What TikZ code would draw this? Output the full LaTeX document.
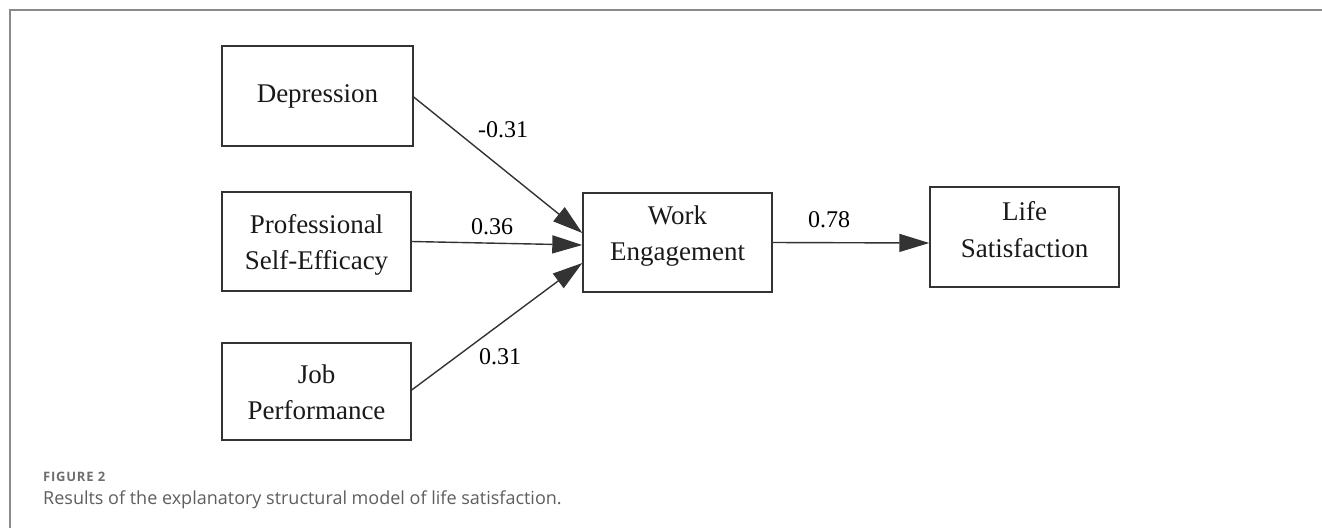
\documentclass[tikz,border=0pt]{standalone}
\usepackage{fontspec}
\setmainfont{Liberation Serif}
\newfontfamily\capfont{Open Sans}
\newfontfamily\figfont[LetterSpace=6]{Open Sans}
\usetikzlibrary{arrows.meta}
\definecolor{linec}{HTML}{333333}
\definecolor{framec}{HTML}{8A8A8A}
\definecolor{capc}{HTML}{5E5E5E}
\definecolor{figc}{HTML}{6E6E6E}
\tikzset{
  varbox/.style={draw=linec, line width=1.4pt, minimum width=#1, inner sep=0pt},
  boxtext/.style={anchor=base, inner sep=0pt, text=black!90, font=\fontsize{27}{31}\selectfont},
  path/.style={draw=linec, line width=1.4pt, -{Triangle[length=30pt,width=18pt]}},
  coef/.style={font=\fontsize{24}{28}\selectfont, inner sep=0pt},
}
\begin{document}
\begin{tikzpicture}[x=1pt,y=-1pt]
\useasboundingbox (0,0) rectangle (1322,528);
\draw[framec, line width=2pt] (10,528) -- (10,10) -- (1322,10);
% boxes
\node[varbox=191pt, minimum height=100pt] (dep) at (317.5,96) {};
\node[varbox=189pt, minimum height=99pt] (pse) at (316.5,241.5) {};
\node[varbox=189pt, minimum height=97pt] (job) at (316.5,391.5) {};
\node[varbox=189pt, minimum height=99pt] (we) at (677.5,242.5) {};
\node[varbox=189pt, minimum height=100pt] (ls) at (1024.5,237) {};
% box texts
\node[boxtext] (depA) at ([yshift=-6pt]dep.center) {Depression};
\node[boxtext] (pseA) at ([yshift=8.5pt]pse.center) {Professional};
\node[boxtext] (pseB) at ([yshift=-27.5pt]pse.center) {Self-Efficacy};
\node[boxtext] (jobA) at ([yshift=8.5pt]job.center) {Job};
\node[boxtext] (jobB) at ([yshift=-27.5pt]job.center) {Performance};
\node[boxtext] (weA) at ([yshift=18.5pt]we.center) {Work};
\node[boxtext] (weB) at ([yshift=-17.5pt]we.center) {Engagement};
\node[boxtext] (lsA) at ([yshift=17pt]ls.center) {Life};
\node[boxtext] (lsB) at ([yshift=-20pt]ls.center) {Satisfaction};
% paths
\path[path] ([yshift=-1pt]dep.east) -- ([yshift=9.5pt]we.west);
\path[path] (pse.east) -- ([yshift=-2.5pt]we.west);
\path[path] ([yshift=1.5pt]job.east) -- ([yshift=-20.5pt]we.west);
\path[path] (we.east) -- ([yshift=-6pt]ls.west);
% coefficients
\node[coef] (c1) at (503,130) {-0.31};
\node[coef] (c2) at (492,227) {0.36};
\node[coef] (c3) at (500,357) {0.31};
\node[coef] (c4) at (829,220) {0.78};
% caption
\node[anchor=base west, inner sep=0pt, text=figc, font=\figfont\bfseries\fontsize{13}{15}\selectfont] (fig) at (43,481) {FIGURE 2};
\node[anchor=base west, inner sep=0pt, text=capc, font=\capfont\fontsize{18}{21}\selectfont] (cap) at (43,504) {Results of the explanatory structural model of life satisfaction.};
\end{tikzpicture}
\end{document}
